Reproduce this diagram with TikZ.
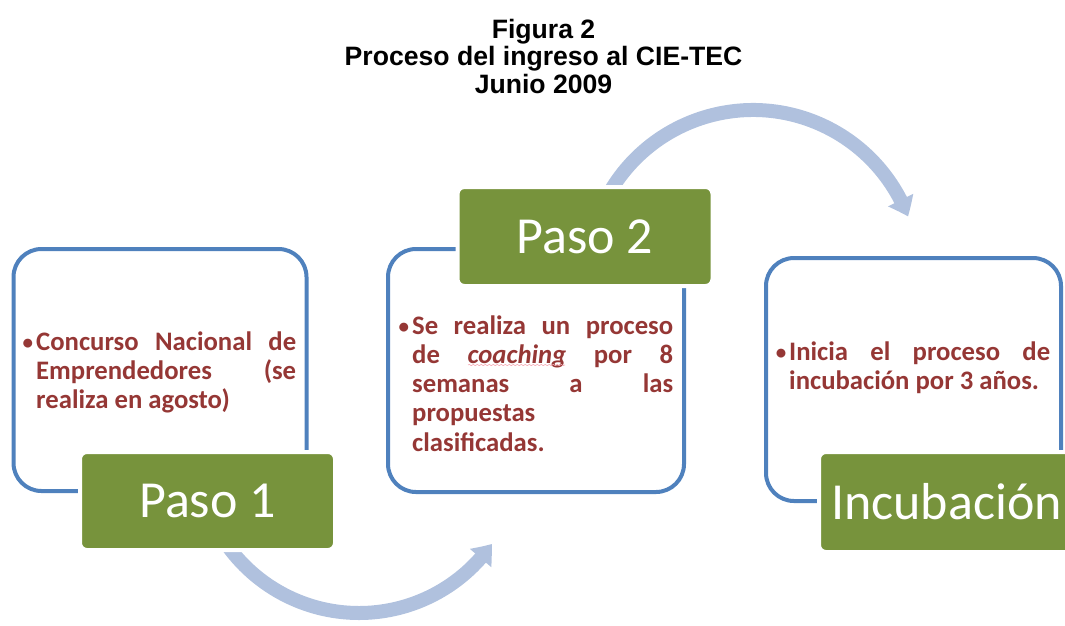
\documentclass[tikz,border=0pt]{standalone}
\usepackage{fontspec}
\setmainfont{Carlito}
\newfontfamily\titlefont{Liberation Sans}
\usetikzlibrary{arrows.meta,bending,decorations.pathmorphing}
\definecolor{boxblue}{RGB}{79,129,189}
\definecolor{stepgreen}{RGB}{119,147,60}
\definecolor{textred}{RGB}{149,55,53}
\definecolor{arrowblue}{RGB}{176,193,222}
\definecolor{squiggle}{RGB}{245,170,180}
\tikzset{
  bluebox/.style={draw=boxblue, line width=4pt, rounded corners=28pt, inner sep=0pt},
  greenbox/.style={fill=stepgreen, draw=white, line width=4pt, rounded corners=7pt,
    minimum width=255pt, inner sep=0pt, text=white,
    font=\fontsize{52}{60}\selectfont},
  bodytext/.style={anchor=base west, inner sep=0pt, align=left, text=textred,
    font=\fontsize{26.7}{29.3}\selectfont\bfseries},
  cyclearrow/.style={draw=arrowblue, line width=14pt,
    -{Triangle[width=27pt,length=18pt,bend]}},
}
\newcommand{\bul}{\llap{\raisebox{1pt}{\fontsize{21}{21}\selectfont\textbullet}\hspace{3pt}}}
\begin{document}
\begin{tikzpicture}[x=1pt,y=-1pt]
\useasboundingbox (0,0) rectangle (1065,625);
\clip (0,0) rectangle (1065,625);

% title (anchor = baseline of the last line)
\node[anchor=base, inner sep=0pt, align=center,
  font=\titlefont\bfseries\fontsize{26.6}{27.5}\selectfont] (title) at (543.5,93)
  {Figura 2\\Proceso del ingreso al CIE-TEC\\Junio 2009};

% cycle arrows (drawn first, partly hidden by the steps)
\coordinate (a1start) at ({359+162*cos(150)},{451+162*sin(150)});
\draw[cyclearrow] (a1start) arc[start angle=150, end angle=35, radius=162];
\coordinate (a2start) at ({753+166*cos(-152)},{276+166*sin(-152)});
\draw[cyclearrow] (a2start) arc[start angle=-152, end angle=-21, radius=166];

% blue frames
\node[bluebox, minimum width=293pt, minimum height=242pt] (frame1) at (160,370) {};
\node[bluebox, minimum width=296pt, minimum height=243pt] (frame2) at (536,370.5) {};
\node[bluebox, minimum width=295pt, minimum height=243pt] (frame3) at (913.5,379.5) {};

% green steps
\node[greenbox, minimum height=98pt] (paso1) at (207.5,501) {Paso 1};
\node[greenbox, minimum height=99pt] (paso2) at (585,236.5) {Paso 2};
\node[greenbox, minimum height=100pt] (incub) at (946.5,502) {Incubación};

% texts (anchor = baseline of the last line)
\node[bodytext] (t1) at (36,408.6) {%
  \makebox[260pt][l]{\bul Concurso\hfill Nacional\hfill de}\\
  \makebox[260pt][l]{Emprendedores\hfill (se}\\
  realiza en agosto)};
\node[bodytext] (t2) at (412,451.2) {%
  \makebox[261pt][l]{\bul Se\hfill realiza\hfill un\hfill proceso}\\
  \makebox[261pt][l]{de\hfill \textit{coaching}\hfill por\hfill 8}\\
  \makebox[261pt][l]{semanas\hfill a\hfill las}\\
  propuestas\\
  clasificadas.};
\node[bodytext] (t3) at (789,389.3) {%
  \makebox[261pt][l]{\bul Inicia\hfill el\hfill proceso\hfill de}\\
  incubación por 3 años.};

\coordinate (sqa) at (468,365);
\coordinate (sqb) at (565,365);
\draw[squiggle, line width=0.6pt, decorate,
  decoration={snake, amplitude=0.6pt, segment length=4pt}] (sqa) -- (sqb);
\end{tikzpicture}
\end{document}
